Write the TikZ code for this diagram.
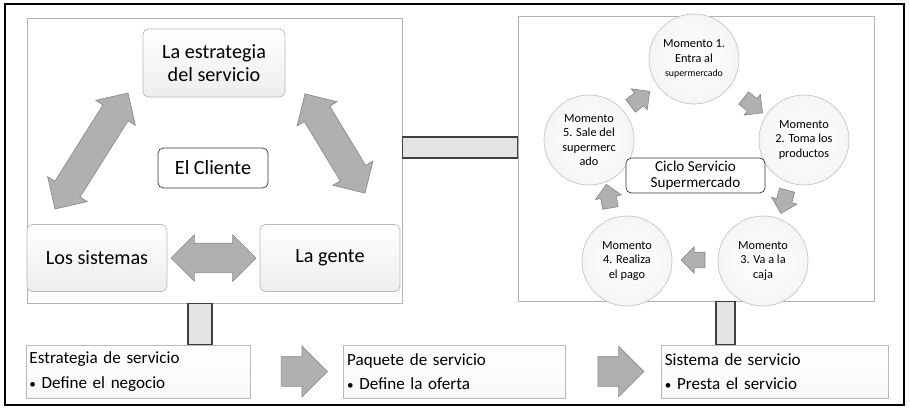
\documentclass[tikz,border=0pt]{standalone}
\usepackage{fontspec}
\setmainfont{Carlito}
\usetikzlibrary{shapes.arrows, positioning, calc}

\newcommand{\pt}{{\fontsize{7.5}{8}\selectfont•}}

\begin{document}
\begin{tikzpicture}[x=0.2mm, y=-0.2mm,
  panel/.style = {draw=gray!60, line width=0.55pt, inner sep=0},
  box/.style = {draw=gray!55, rounded corners=3pt, top color=white, bottom color=gray!14, align=center, inner sep=0, font=\fontsize{11.5}{12.8}\selectfont},
  core/.style = {draw=black!80, rounded corners=3pt, fill=white, align=center, inner sep=0, font=\fontsize{11.5}{12.8}\selectfont},
  moment/.style = {circle, draw=gray!45, minimum size=18mm, inner sep=0, inner color=white, outer color=gray!8, align=center, font=\fontsize{7}{8.2}\selectfont},
  stage/.style = {draw=gray!55, top color=white, bottom color=gray!6, minimum height=10.6mm, inner xsep=0.7mm, inner ysep=0, align=left, font=\fontsize{9.7}{14}\selectfont},
  bigarrow/.style = {double arrow, draw=gray!90, fill=gray!62, inner xsep=0, inner ysep=2.9mm, double arrow head extend=1.7mm},
  stagearrow/.style = {single arrow, draw=gray!90, fill=gray!62, minimum height=9.2mm, inner xsep=0, inner ysep=2.9mm, single arrow head extend=2.1mm},
  smallarrow/.style = {single arrow, draw=gray!90, fill=gray!62, minimum height=4.8mm, inner xsep=0, inner ysep=1.5mm, single arrow head extend=1.05mm},
  bar/.style = {draw=black!75, fill=gray!22, line width=0.6pt}]
\useasboundingbox (0,0) rectangle (910,409);
\draw[line width=1.1pt] (5,4) rectangle (904,405);

% panels
\node[panel, minimum width=75mm, minimum height=57mm] (lpanel) at (214.5,160.5) {};
\node[panel, minimum width=71.2mm, minimum height=57mm] (rpanel) at (696,158.5) {};
\draw[bar] (lpanel.east |- 0,137) rectangle (rpanel.west |- 0,158);

% left panel
\node[box, minimum width=28.4mm, minimum height=13.6mm] (estr) at (214,63) {La estrategia\\del servicio};
\node[core, minimum width=22mm, minimum height=8mm] (cliente) at (213,168) {El Cliente};
\node[box, minimum width=28mm, minimum height=13.4mm] (sist) at (97,258) {Los sistemas};
\node[box, minimum width=28mm, minimum height=13.4mm] (gente) at (330,258) {La gente};
\node[bigarrow, minimum height=27.4mm, rotate=57.8] at (91.5,151) {};
\node[bigarrow, minimum height=23.2mm, rotate=-58.8] at (335,143.5) {};
\node[bigarrow, minimum height=17mm] at ($(sist.east)!0.5!(gente.west)$) {};

% right panel
\node[moment] (m1) at (694,59) {Momento 1.\\Entra al\\{\fontsize{5.6}{7}\selectfont supermercado}};
\node[moment] (m2) at (804,140) {Momento\\2. Toma los\\productos};
\node[moment] (m3) at (763,261) {Momento\\3. Va a la\\caja};
\node[moment] (m4) at (627,261) {Momento\\4. Realiza\\el pago};
\node[moment] (m5) at (589,140) {Momento\\5. Sale del\\supermerc\\ado};
\node[core, minimum width=27.8mm, minimum height=7mm, font=\fontsize{8.6}{9.6}\selectfont] (ciclo) at (695.5,175.5) {Ciclo Servicio\\Supermercado};
\node[smallarrow, rotate=37] at (637,101) {};
\node[smallarrow, rotate=-38] at (750,103) {};
\node[smallarrow, rotate=-105] at (785,198) {};
\node[smallarrow, rotate=180] at (697,260) {};
\node[smallarrow, rotate=100] at (609,200) {};

% bottom process
\node[stage, minimum width=44.8mm, text width=43.4mm] (b1) at (138,371.5) {Estrategia de servicio\\\pt\ Define el negocio};
\node[stage, minimum width=44.4mm, text width=43mm, right=18.6mm of b1] (b2) {Paquete de servicio\\\pt\ Define la oferta};
\node[stage, minimum width=45.4mm, text width=44mm, right=19mm of b2] (b3) {Sistema de servicio\\\pt\ Presta el servicio};
\node[stagearrow] at ($(b1.east)!0.5!(b2.west)$) {};
\node[stagearrow] at ($(b2.east)!0.5!(b3.west)$) {};
\draw[bar] (188,0 |- lpanel.south) rectangle (212,0 |- b1.north);
\draw[bar] (716,0 |- rpanel.south) rectangle (735,0 |- b3.north);
\end{tikzpicture}
\end{document}
